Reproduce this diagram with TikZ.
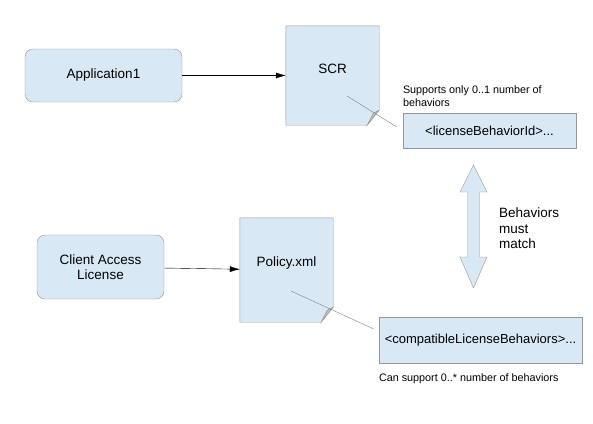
\documentclass[tikz,border=0pt]{standalone}
\usepackage{fontspec}
\setmainfont{Liberation Sans}
\usetikzlibrary{calc,arrows.meta}
\definecolor{boxblue}{RGB}{217,232,245}
\definecolor{edgegray}{RGB}{150,150,150}
\definecolor{foldgray}{RGB}{185,190,196}

\begin{document}
\begin{tikzpicture}[x=1pt,y=-1pt,
    every node/.style={font=\fontsize{13.5}{15.5}\selectfont},
    roundbox/.style={draw=edgegray,fill=boxblue,rounded corners=8pt,inner sep=0pt,align=center},
    codebox/.style={draw=edgegray,fill=boxblue,inner sep=0pt,font=\fontsize{13}{15}\selectfont},
    remark/.style={font=\fontsize{10.8}{13}\selectfont,align=left,inner sep=0pt},
    link/.style={-{Latex[length=10pt,width=6pt]}},
    pinline/.style={draw=gray}]
  \useasboundingbox (0,0) rectangle (593,423);
  \node[roundbox,minimum width=157pt,minimum height=53pt] (app) at (103.5,75.5) {Application1};
  \node[roundbox,minimum width=127pt,minimum height=64pt] (cal) at (100.5,267) {Client Access\\License};
  \foreach \name/\x/\y/\h/\txt in {%
    scr/332.5/75.5/99/SCR,
    pol/286.5/270/104/Policy.xml}{%
      \node[minimum width=93pt,minimum height=\h pt,inner sep=0pt] (\name) at (\x,\y) {};
      \filldraw[draw=edgegray,fill=boxblue] (\name.north west) -- (\name.north east)
        -- ([yshift=15pt]\name.south east) -- ([xshift=-12pt]\name.south east)
        -- (\name.south west) -- cycle;
      \filldraw[draw=edgegray,fill=foldgray] ([xshift=-12pt]\name.south east)
        -- ([xshift=-6pt,yshift=12pt]\name.south east) -- ([yshift=15pt]\name.south east) -- cycle;
      \node (\name-txt) at ([yshift=7pt]\name.center) {\txt};
    }
  \node[codebox,minimum width=173pt,minimum height=35pt] (lic) at (489.5,130.5) {<licenseBehaviorId>...};
  \node[codebox,minimum width=203pt,minimum height=46pt] (clb) at (480.5,340) {<compatibleLicenseBehaviors>...};
  \node[remark,anchor=south west] (lic-note) at ([yshift=6pt]lic.north west) {Supports only 0..1 number of\\behaviors};
  \node[remark,anchor=north west] (clb-note) at ([yshift=-10pt]clb.south west) {Can support 0..* number of behaviors};
  \coordinate (match) at (473.5,226.5);
  \filldraw[draw=edgegray,fill=boxblue] (match) ++(0,-61.5) -- ++(13.5,27) -- ++(-7.5,0)
    -- ++(0,65) -- ++(7.5,0) -- ++(-13.5,31) -- ++(-13.5,-31) -- ++(7.5,0)
    -- ++(0,-65) -- ++(-7.5,0) -- cycle;
  \node[align=left,anchor=north west,inner sep=0pt] (match-txt) at (499,208) {Behaviors\\must\\match};
  \coordinate (scr-pin) at (347,96);
  \coordinate (pol-pin) at (291,291);
  \draw[link] (app) -- (scr);
  \draw[link] (cal) -- (pol);
  \draw[pinline] (scr-pin) -- ([xshift=-6pt,yshift=3.5pt]lic.west);
  \draw[pinline] (pol-pin) -- ([xshift=-5pt,yshift=11pt]clb.west);
\end{tikzpicture}
\end{document}
